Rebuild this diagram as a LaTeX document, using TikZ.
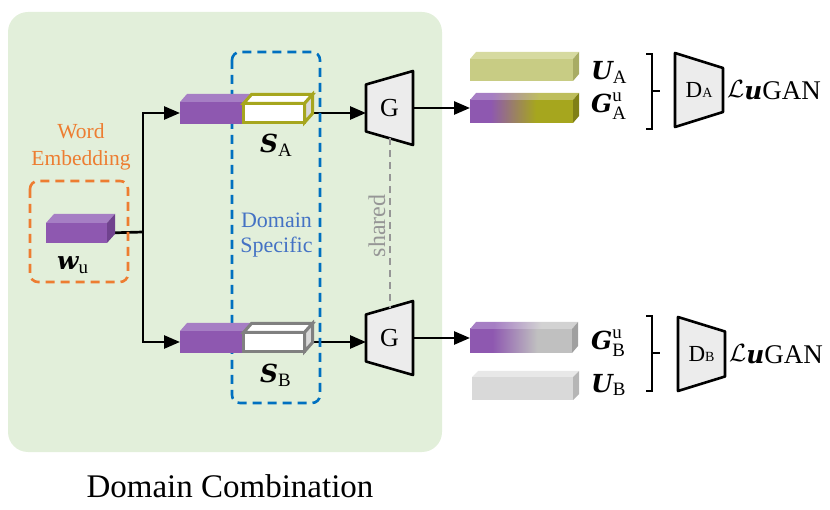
\documentclass[tikz,border=0pt]{standalone}
\usepackage{amsmath}
\usepackage{fontspec}
\setmainfont{Liberation Serif}
\newfontfamily\varfont[Scale=0.92]{DejaVu Serif}
\newcommand\bvar[1]{\text{\varfont\bfseries\itshape #1}}
\usetikzlibrary{arrows.meta,calc}

\pgfdeclarelayer{background}
\pgfdeclarelayer{lines}
\pgfsetlayers{background,lines,main}

\definecolor{bggreen}{RGB}{226,239,218}
\definecolor{vio}{RGB}{142,88,176}
\definecolor{viotop}{RGB}{166,126,196}
\definecolor{vioside}{RGB}{112,66,142}
\definecolor{olv}{RGB}{166,166,30}
\definecolor{olvtop}{RGB}{190,190,92}
\definecolor{olvside}{RGB}{128,128,22}
\definecolor{olvlight}{RGB}{200,204,132}
\definecolor{olvlighttop}{RGB}{214,218,160}
\definecolor{olvlightside}{RGB}{168,172,100}
\definecolor{gry}{RGB}{192,192,192}
\definecolor{grytop}{RGB}{210,210,210}
\definecolor{gryside}{RGB}{160,160,160}
\definecolor{grylight}{RGB}{217,217,217}
\definecolor{grylighttop}{RGB}{232,232,232}
\definecolor{grylightside}{RGB}{182,182,182}
\definecolor{boxgray}{RGB}{128,128,128}
\definecolor{trapfill}{RGB}{236,236,236}
\definecolor{dashblue}{RGB}{0,112,192}
\definecolor{txtblue}{RGB}{68,114,196}
\definecolor{orng}{RGB}{237,125,49}
\definecolor{sharedgray}{RGB}{150,150,150}

\pgfdeclarehorizontalshading{vioolv}{100bp}{color(0bp)=(vio); color(35bp)=(vio); color(57bp)=(olv); color(100bp)=(olv)}
\pgfdeclarehorizontalshading{vioolvtop}{100bp}{color(0bp)=(viotop); color(35bp)=(viotop); color(57bp)=(olvtop); color(100bp)=(olvtop)}
\pgfdeclarehorizontalshading{viogry}{100bp}{color(0bp)=(vio); color(36bp)=(vio); color(58bp)=(gry); color(100bp)=(gry)}
\pgfdeclarehorizontalshading{viogrytop}{100bp}{color(0bp)=(viotop); color(36bp)=(viotop); color(58bp)=(grytop); color(100bp)=(grytop)}

% top and side face of a block, #1 node, #2 #3 depth
\newcommand\cubefaces[5]{%
	\path[#4] (#1.north west) -- ++(#2,#3) -- ($(#1.north east)+(#2,#3)$) -- (#1.north east) -- cycle;
	\path[#5] (#1.north east) -- ++(#2,#3) -- ($(#1.south east)+(#2,#3)$) -- (#1.south east) -- cycle;
}
% generator, narrow on the left
\newcommand\genshape[2]{%
	\coordinate (#1-bl) at ($(#1.west)+(0,#2)$);
	\coordinate (#1-tl) at ($(#1.west)-(0,#2)$);
	\begin{pgfonlayer}{lines}
		\draw[trap] (#1-tl) -- (#1.north east) -- (#1.south east) -- (#1-bl) -- cycle;
	\end{pgfonlayer}
}
% discriminator, narrow on the right
\newcommand\discshape[2]{%
	\begin{pgfonlayer}{lines}
		\draw[trap] (#1.north west) -- ($(#1.east)-(0,#2)$) -- ($(#1.east)+(0,#2)$) -- (#1.south west) -- cycle;
	\end{pgfonlayer}
}

\tikzset{
	arr/.style={-{Triangle[length=16pt,width=13pt]}, line width=2.7pt},
	blk/.style={inner sep=0pt, outer sep=0pt, minimum height=22pt},
	sbox/.style={blk, fill=white, line width=3pt, minimum width=61pt, minimum height=19pt},
	trap/.style={fill=trapfill, draw=black, line width=2.6pt, line join=round},
	gen/.style={inner sep=0pt, outer sep=0pt, minimum width=47pt, minimum height=74pt,
		font=\fontsize{26}{26}\selectfont},
	var/.style={inner sep=0pt, font=\fontsize{27}{30}\selectfont},
	loss/.style={inner sep=0pt, font=\fontsize{27}{27}\selectfont},
	bracket/.style={line width=2.2pt},
	group/.style={dashed, dash pattern=on 9pt off 6pt, line width=2.6pt, rounded corners=8pt},
}

\begin{document}
\begin{tikzpicture}[x=1pt, y=-1pt]
	\useasboundingbox (0,0) rectangle (830,510);

	% background
	\begin{pgfonlayer}{background}
		\fill[bggreen, rounded corners=20pt] (8,12) rectangle (442,452);
	\end{pgfonlayer}
	\node[font=\fontsize{33}{36}\selectfont] (comb) at (230,486) {Domain Combination};

	% word embedding
	\draw[group, orng] (30,181) rectangle (128,282);
	\node[align=center, orng, font=\fontsize{21.5}{27}\selectfont] (wordlab) at (81,147) {Word\\Embedding};
	\node[blk, fill=vio, minimum width=61pt, minimum height=20pt] (wu) at (76.5,233) {};
	\cubefaces{wu}{8}{-9}{fill=viotop}{fill=vioside}
	\node[var, anchor=base west] (wulab) at (57,270) {$\bvar{w}_{\mathrm{u}}$};

	% domain specific
	\draw[group, dashblue] (232,52) rectangle (320,403);
	\node[align=center, txtblue, font=\fontsize{22}{25}\selectfont] (speclab) at (276.5,235) {Domain\\Specific};

	\node[blk, fill=vio, minimum width=65pt] (pA) at (212.5,113) {};
	\cubefaces{pA}{7}{-8}{fill=viotop}{fill=vioside}
	\node[sbox, draw=olv] (sA) at (274,113) {};
	\cubefaces{sA}{8}{-9}{fill=white, draw=olv, line width=3pt}{fill=gray!30, draw=olv, line width=3pt}
	\node[var, anchor=base west] (salab) at (260,153) {$\bvar{S}_{\mathrm{A}}$};

	\node[blk, fill=vio, minimum width=65pt] (pB) at (212.5,342) {};
	\cubefaces{pB}{7}{-8}{fill=viotop}{fill=vioside}
	\node[sbox, draw=boxgray] (sB) at (274,342) {};
	\cubefaces{sB}{8}{-9}{fill=white, draw=boxgray, line width=3pt}{fill=gray!30, draw=boxgray, line width=3pt}
	\node[var, anchor=base west] (sblab) at (260,383) {$\bvar{S}_{\mathrm{B}}$};

	% generators
	\node[gen] (gA) at (389.5,108) {G};
	\genshape{gA}{23.5}
	\node[gen] (gB) at (389.5,338) {G};
	\genshape{gB}{23.5}
	\node[rotate=90, sharedgray, font=\fontsize{24}{24}\selectfont] (sharedlab) at (377,226) {shared};

	% outputs
	\node[blk, fill=olvlight, minimum width=103pt] (uA) at (521.5,70) {};
	\cubefaces{uA}{6}{-7}{fill=olvlighttop}{fill=olvlightside}
	\node[blk, shading=vioolv, minimum width=103pt, minimum height=23pt] (gAu) at (521.5,111.5) {};
	\cubefaces{gAu}{6}{-7}{shading=vioolvtop}{fill=olvside}
	\node[blk, shading=viogry, minimum width=102pt, minimum height=24pt] (gBu) at (521,341) {};
	\cubefaces{gBu}{6}{-7}{shading=viogrytop}{fill=gryside}
	\node[blk, fill=grylight, minimum width=101pt, minimum height=23pt] (uB) at (522.5,388.5) {};
	\cubefaces{uB}{6}{-6}{fill=grylighttop}{fill=grylightside}

	\node[var, anchor=base west] (ualab) at (591,80) {$\bvar{U}_{\mathrm{A}}$};
	\node[var, anchor=base west] (galab) at (591,113) {$\bvar{G}_{\mathrm{A}}^{\mathrm{u}}$};
	\node[var, anchor=base west] (gblab) at (591,350) {$\bvar{G}_{\mathrm{B}}^{\mathrm{u}}$};
	\node[var, anchor=base west] (ublab) at (591,392) {$\bvar{U}_{\mathrm{B}}$};

	% brackets
	\draw[bracket] (646,54) -- (652,54) -- (652,129) -- (646,129);
	\draw[bracket] (652,91) -- (660,91);
	\draw[bracket] (646,316) -- (652,316) -- (652,391) -- (646,391);
	\draw[bracket] (652,353) -- (660,353);

	% discriminators
	\node[gen, minimum width=48pt, font=\fontsize{23}{23}\selectfont] (dA) at (699,90)
		{D{\fontsize{14}{14}\selectfont A}};
	\discshape{dA}{22}
	\node[gen, font=\fontsize{23}{23}\selectfont] (dB) at (701.5,354)
		{D{\fontsize{14}{14}\selectfont B}};
	\discshape{dB}{22.5}
	\node[loss, anchor=base west] (lossA) at (727,98)
		{{\fontsize{33}{33}\selectfont$\mathcal{L}$}\raisebox{-2pt}{\bvar{u}GAN}};
	\node[loss, anchor=base west] (lossB) at (729,362)
		{{\fontsize{33}{33}\selectfont$\mathcal{L}$}\raisebox{-2pt}{\bvar{u}GAN}};

	% connectors
	\coordinate (jn) at (143,232);
	\begin{pgfonlayer}{lines}
		\draw[line width=2.7pt] (wu.east) -- (jn);
		\draw[arr] (jn) |- (pA.west);
		\draw[arr] (jn) |- (pB.west);
		\draw[arr] (sA.east) -- (sA.east -| gA.west);
		\draw[arr] (sB.east) -- (sB.east -| gB.west);
		\draw[arr] (gA.east) -- (gA.east -| gAu.west);
		\draw[arr] (gB.east) -- (gB.east -| gBu.west);
		\draw[sharedgray, dashed, dash pattern=on 7pt off 5pt, line width=2pt]
			($(gA-bl)!.5!(gA.south east)$) -- ($(gB-tl)!.5!(gB.north east)$);
	\end{pgfonlayer}
\end{tikzpicture}
\end{document}
